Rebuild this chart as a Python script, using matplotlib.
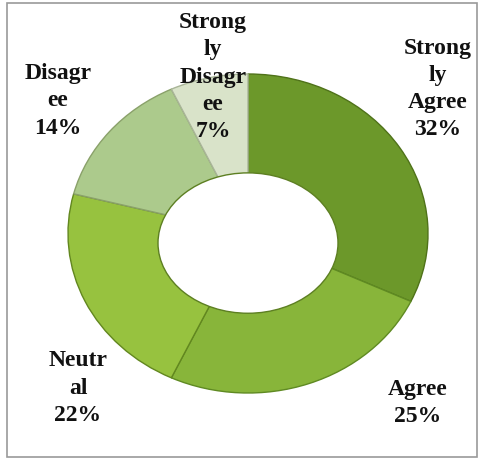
import numpy as np
import matplotlib.pyplot as plt
from matplotlib.patches import Rectangle, Ellipse

categories = ['Strongly Agree', 'Agree', 'Neutral', 'Disagree', 'Strongly Disagree']
shares = [32, 25, 22, 14, 7]
# how the labels wrap inside their narrow boxes
wrapped = ['Strong\nly\nAgree', 'Agree', 'Neutr\nal', 'Disagr\nee', 'Strong\nly\nDisagr\nee']

colors = ['#6c982a', '#88b53a', '#97c23f', '#acca8c', '#d9e3c9']
edges = ['#4f7219', '#5f8a22', '#62871f', '#8aa16a', '#a9b598']

# label anchors in figure pixels (x from left, y from top)
label_xy = [(438, 89), (418, 403), (78, 388), (58, 101), (213, 77)]

W, H = 485, 461
fig = plt.figure(figsize=(W / 100, H / 100), dpi=100)
fig.patch.set_facecolor('white')

# donut, a little wider than tall
ax = fig.add_axes([68 / W, 1 - 393 / H, 360 / W, 319 / H])
wedges, _ = ax.pie(shares, startangle=90, counterclock=False, colors=colors,
                   radius=1.0, wedgeprops=dict(linewidth=1.0))
for w, ec in zip(wedges, edges):
    w.set_edgecolor(ec)
# the hole sits a touch low, as in a tilted doughnut
ax.add_patch(Ellipse((0, -0.06), 1.0, 0.88, facecolor='white',
                     edgecolor='#5d7f22', linewidth=1.0, zorder=5))
ax.set_aspect('auto')
ax.set_xlim(-1.0, 1.0)
ax.set_ylim(-1.0, 1.0)
ax.axis('off')

for txt, v, (px, py) in zip(wrapped, shares, label_xy):
    fig.text(px / W, 1 - py / H, f'{txt}\n{v}%', ha='center', va='center',
             family='Liberation Serif', fontweight='bold', fontsize=17,
             linespacing=1.38, color='#111111')

# thin grey frame round the chart
fig.patches.append(Rectangle((7 / W, 1 - 457 / H), 470 / W, 454 / H,
                             transform=fig.transFigure, fill=False,
                             edgecolor='#9a9a9a', linewidth=1.2))

fig.savefig('out.png', dpi=100)
plt.close()
